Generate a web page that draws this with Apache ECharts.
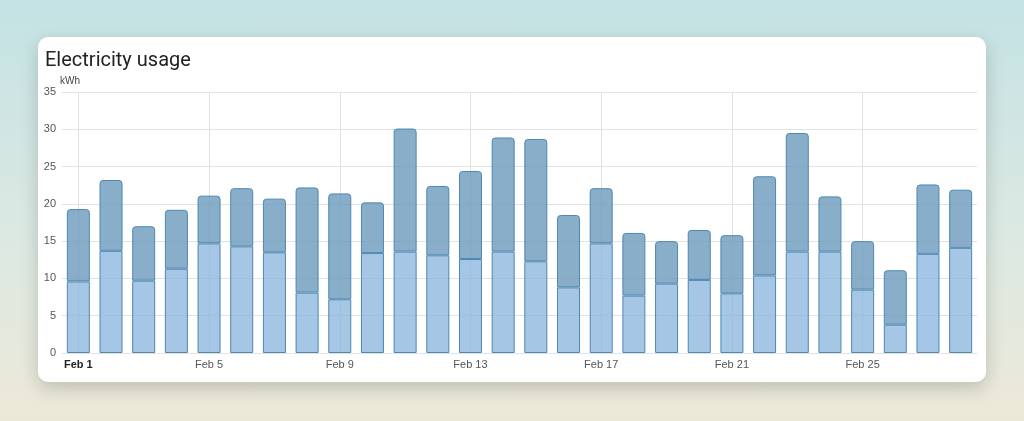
<!DOCTYPE html>
<html>
<head>
<meta charset="utf-8">
<script src="https://cdn.jsdelivr.net/npm/echarts@6/dist/echarts.min.js"></script>
<style>
  html, body { margin: 0; padding: 0; width: 1024px; height: 421px; overflow: hidden; }
  body { background: linear-gradient(180deg, #c4e2e4 0%, #dde9e2 60%, #ece8d8 100%); font-family: Roboto, sans-serif; }
  #card { position: absolute; left: 38px; top: 37px; width: 948px; height: 345px; background: #fff;
          border-radius: 10px; box-shadow: 0 6px 18px rgba(0,0,0,0.18); }
  #title { position: absolute; left: 7px; top: 10px; font-size: 20px; color: #222; }
  #chart { position: absolute; left: 0; top: 0; width: 948px; height: 345px; }
</style>
</head>
<body>
<div id="card"><div id="chart"></div><div id="title">Electricity usage</div></div>
<script>
// days of February
var days = [];
for (var d = 1; d <= 28; d++) days.push('Feb ' + d);

// lower (light) part of each bar, kWh
var baseUsage = [9.6, 13.7, 9.7, 11.3, 14.7, 14.3, 13.5, 8.1, 7.2, 13.4, 13.6, 13.1, 12.6, 13.6,
  12.3, 8.8, 14.7, 7.7, 9.3, 9.8, 8.0, 10.4, 13.6, 13.6, 8.5, 3.8, 13.3, 14.1];
// totals
var totalUsage = [19.3, 23.2, 17.0, 19.2, 21.1, 22.1, 20.7, 22.2, 21.4, 20.2, 30.1, 22.4, 24.4, 28.9,
  28.7, 18.5, 22.1, 16.1, 15.0, 16.5, 15.8, 23.7, 29.5, 21.0, 15.0, 11.1, 22.6, 21.9];
var upperUsage = totalUsage.map(function (t, i) { return +(t - baseUsage[i]).toFixed(1); });
// labelled days get a vertical grid line through the bar
var labelDays = days.filter(function (v, i) { return i % 4 === 0; });

var chart = echarts.init(document.getElementById('chart'));
var everyFourth = function (i) { return i % 4 === 0; };

chart.setOption({
  animation: false,
  grid: { left: 24, right: 9, top: 55, bottom: 29, containLabel: false },
  xAxis: {
    type: 'category',
    data: days,
    axisLine: { show: false },
    axisTick: { show: false },
    splitLine: { show: false },
    axisLabel: {
      interval: everyFourth,
      color: '#555',
      fontSize: 11,
      margin: 6,
      formatter: function (v, i) { return i === 0 ? '{b|' + v + '}' : v; },
      rich: { b: { fontWeight: 'bold', color: '#222', fontSize: 11 } }
    }
  },
  yAxis: {
    type: 'value',
    min: 0, max: 35, interval: 5,
    name: 'kWh',
    nameLocation: 'end',
    nameGap: 4,
    nameTextStyle: { color: '#444', fontSize: 10, align: 'left', padding: [0, 0, 0, -2] },
    axisLine: { show: false },
    axisTick: { show: false },
    axisLabel: { color: '#555', fontSize: 11, margin: 6 },
    splitLine: { lineStyle: { color: '#e3e3e3' } }
  },
  series: [
    {
      type: 'bar', stack: 'use', data: baseUsage, barWidth: 23, z: 2,
      itemStyle: { color: 'rgba(140,182,222,0.78)', borderColor: '#4e87b0', borderWidth: 1 },
      markLine: {
        silent: true, symbol: 'none', label: { show: false }, z: 1,
        lineStyle: { color: '#e0e0e0', type: 'solid', width: 1 },
        data: labelDays.map(function (d) { return { xAxis: d }; })
      }
    },
    {
      type: 'bar', stack: 'use', data: upperUsage, barWidth: 23, z: 2,
      itemStyle: { color: 'rgba(106,154,188,0.8)', borderColor: '#4e87b0', borderWidth: 1, borderRadius: [3, 3, 0, 0] }
    }
  ]
});
</script>
</body>
</html>
